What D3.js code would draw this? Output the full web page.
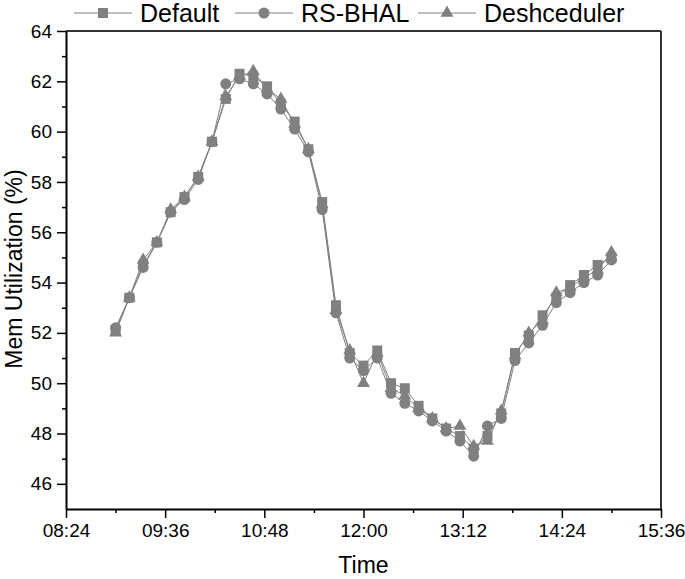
<!DOCTYPE html>
<html>
<head>
<meta charset="utf-8">
<script src="https://cdn.jsdelivr.net/npm/d3@7"></script>
<style>
  body { margin: 0; background: #fff; }
  svg { display: block; font-family: "Liberation Sans", Arial, sans-serif; }
</style>
</head>
<body>
<div id="chart"></div>
<script>
const times = [
  "09:00", "09:10", "09:20", "09:30", "09:40", "09:50", "10:00", "10:10", "10:20", "10:30",
  "10:40", "10:50", "11:00", "11:10", "11:20", "11:30", "11:40", "11:50", "12:00", "12:10",
  "12:20", "12:30", "12:40", "12:50", "13:00", "13:10", "13:20", "13:30", "13:40", "13:50",
  "14:00", "14:10", "14:20", "14:30", "14:40", "14:50", "15:00",
];
const defaultValues = [
  52.1, 53.4, 54.7, 55.6, 56.8, 57.4, 58.2, 59.6, 61.3, 62.3,
  62.2, 61.8, 61.1, 60.4, 59.3, 57.2, 53.1, 51.2, 50.7, 51.3,
  50.0, 49.8, 49.1, 48.6, 48.2, 47.9, 47.4, 47.9, 48.8, 51.2,
  51.9, 52.7, 53.4, 53.9, 54.3, 54.7, 55.0,
];
const rsBhalValues = [
  52.2, 53.4, 54.6, 55.6, 56.8, 57.3, 58.1, 59.6, 61.9, 62.1,
  61.9, 61.5, 60.9, 60.1, 59.2, 56.9, 52.8, 51.0, 50.5, 51.0,
  49.6, 49.2, 48.9, 48.5, 48.1, 47.7, 47.1, 48.3, 48.6, 50.9,
  51.6, 52.3, 53.2, 53.6, 54.0, 54.3, 54.9,
];
const deshValues = [
  52.0, 53.4, 54.9, 55.6, 56.9, 57.4, 58.2, 59.6, 61.4, 62.2,
  62.4, 61.7, 61.3, 60.3, 59.3, 57.1, 52.9, 51.3, 50.0, 51.2,
  49.8, 49.5, 49.0, 48.6, 48.2, 48.3, 47.5, 47.7, 48.9, 51.1,
  52.0, 52.5, 53.6, 53.8, 54.2, 54.5, 55.2,
];
const seriesNames = ["Default", "RS-BHAL", "Deshceduler"];
const xTickLabels = ["08:24", "09:36", "10:48", "12:00", "13:12", "14:24", "15:36"];
const yTicks = [46, 48, 50, 52, 54, 56, 58, 60, 62, 64];
const yMinorTicks = [47, 49, 51, 53, 55, 57, 59, 61, 63];

const W = 685, H = 579;
const margin = { top: 31, right: 24, bottom: 70, left: 66 };
const width = W - margin.left - margin.right,
  height = H - margin.top - margin.bottom;

const parseTime = d3.timeParse("%H:%M");
const grey = "#808080";

const svg = d3.select("#chart").append("svg").attr("width", W).attr("height", H);
const g = svg.append("g").attr("transform", `translate(${margin.left}, ${margin.top})`);

const x = d3.scaleTime()
  .domain([parseTime(xTickLabels[0]), parseTime(xTickLabels[xTickLabels.length - 1])])
  .range([0, width]);
const y = d3.scaleLinear().domain([45, 64]).range([height, 0]);

// frame top / right
g.append("line").attr("x1", 0).attr("x2", width).attr("y1", 0).attr("y2", 0)
  .attr("stroke", "#333").attr("stroke-width", 2);
g.append("line").attr("x1", width).attr("x2", width).attr("y1", 0).attr("y2", height)
  .attr("stroke", "#333").attr("stroke-width", 2);

// x axis
const xMajor = xTickLabels.map(parseTime);
const xMinor = xMajor.slice(1).map((d, i) => new Date((d.getTime() + xMajor[i].getTime()) / 2));
g.append("g").attr("transform", `translate(0, ${height})`)
  .call(d3.axisBottom(x).tickValues(xMinor).tickSize(4).tickFormat("").tickSizeOuter(0))
  .call((a) => a.select(".domain").remove())
  .selectAll("line").attr("stroke-width", 1.5);
const xAxis = g.append("g").attr("transform", `translate(0, ${height})`)
  .call(d3.axisBottom(x).tickValues(xMajor).tickSize(9).tickSizeOuter(0).tickPadding(6)
    .tickFormat(d3.timeFormat("%H:%M")));
xAxis.selectAll("text").style("font-size", "19px").attr("fill", "#000")
  .style("font-family", "Liberation Sans, Arial, sans-serif");
xAxis.selectAll("line").attr("stroke-width", 1.5);
xAxis.select(".domain").attr("stroke-width", 2);

// y axis
g.append("g")
  .call(d3.axisLeft(y).tickValues(yMinorTicks).tickSize(4).tickFormat("").tickSizeOuter(0))
  .call((a) => a.select(".domain").remove())
  .selectAll("line").attr("stroke-width", 1.5);
const yAxis = g.append("g")
  .call(d3.axisLeft(y).tickValues(yTicks).tickSize(9).tickSizeOuter(0).tickPadding(5));
yAxis.selectAll("text").style("font-size", "19px").attr("fill", "#000")
  .style("font-family", "Liberation Sans, Arial, sans-serif");
yAxis.selectAll("line").attr("stroke-width", 1.5);
yAxis.select(".domain").attr("stroke-width", 2);

// axis titles
svg.append("text").attr("x", margin.left + width / 2).attr("y", 573)
  .attr("text-anchor", "middle").style("font-size", "23px").text("Time");
svg.append("text").attr("transform", "translate(22, 269) rotate(-90)")
  .attr("text-anchor", "middle").style("font-size", "23px").text("Mem Utilization (%)");

// series
const symbols = [
  d3.symbol().type(d3.symbolSquare).size(100),
  d3.symbol().type(d3.symbolCircle).size(95),
  d3.symbol().type(d3.symbolTriangle).size(72),
];
const seriesValues = [defaultValues, rsBhalValues, deshValues];
const line = d3.line().x((d) => x(d.t)).y((d) => y(d.v));

seriesValues.forEach((vals, s) => {
  const pts = vals.map((v, i) => ({ t: parseTime(times[i]), v: v }));
  g.append("path").datum(pts).attr("d", line)
    .attr("fill", "none").attr("stroke", grey).attr("stroke-width", 1);
  g.selectAll(".m" + s).data(pts).join("path")
    .attr("class", "m" + s)
    .attr("transform", (d) => `translate(${x(d.t)}, ${y(d.v)})`)
    .attr("d", symbols[s])
    .attr("fill", grey);
});

// legend
const legendX = [74, 235, 418];
seriesNames.forEach((name, s) => {
  const lx = legendX[s];
  svg.append("line").attr("x1", lx).attr("x2", lx + 58).attr("y1", 13).attr("y2", 13)
    .attr("stroke", grey).attr("stroke-width", 1);
  svg.append("path").attr("transform", `translate(${lx + 29}, 13)`)
    .attr("d", symbols[s]).attr("fill", grey);
  svg.append("text").attr("x", lx + 66).attr("y", 22)
    .style("font-size", "25px").text(name);
});
</script>
</body>
</html>
